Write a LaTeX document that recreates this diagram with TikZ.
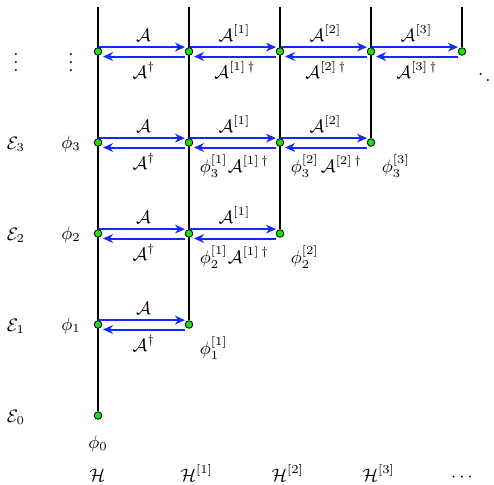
\documentclass[tikz,border=0pt]{standalone}
\usetikzlibrary{arrows.meta,backgrounds}
\definecolor{dotgreen}{RGB}{30,220,30}
\definecolor{arrblue}{RGB}{20,40,255}
\newcommand\linkpair[6]{%
  \draw[fwd] ([yshift=2.2pt]#1.center) -- ([yshift=2.2pt,xshift=-2pt]#2.center)
     node[midway,lbl,yshift=2.8pt,xshift=1pt] {$#3$};
  \draw[fwd] ([yshift=-2.5pt,xshift=-2pt]#2.center) -- ([yshift=-2.5pt,xshift=2.5pt]#1.center)
     node[midway,lbl,yshift=#6,xshift=#5] {$#4$};}
\begin{document}
\begin{tikzpicture}[x=0.5pt,y=-0.5pt,font=\fontsize{9.2}{11}\selectfont,
  dotnode/.style={circle,draw=black,line width=0.4pt,fill=dotgreen,inner sep=0pt,minimum size=3.8pt},
  axisline/.style={line width=1.3pt,black},
  fwd/.style={draw=arrblue,line width=1pt,-{Stealth[length=5pt,width=4.4pt,inset=1.6pt]}},
  lbl/.style={anchor=base,inner sep=0pt},
  philbl/.style={anchor=base west,inner sep=0pt}]
\useasboundingbox (0,0) rectangle (494,484);
% dots
\foreach \c in {0,...,4}{
  \foreach \r in {\c,...,4}{
    \node[dotnode] (d-\c-\r) at ({98+91*\c},{415.5-91*\r}) {};
  }
  \coordinate (t-\c) at ({98+91*\c},7);
}
\begin{pgfonlayer}{background}
\draw[axisline] (t-0) -- (d-0-0);
\draw[axisline] (t-1) -- (d-1-1);
\draw[axisline] (t-2) -- (d-2-2);
\draw[axisline] (t-3) -- (d-3-3);
\draw[axisline] (t-4) -- (d-4-4);
% row 1
\linkpair{d-0-1}{d-1-1}{\mathcal{A}}{\mathcal{A}^\dagger}{0pt}{-11pt}
% row 2
\linkpair{d-0-2}{d-1-2}{\mathcal{A}}{\mathcal{A}^\dagger}{0pt}{-11pt}
\linkpair{d-1-2}{d-2-2}{\mathcal{A}^{[1]}}{\mathcal{A}^{[1]\,\dagger}}{6.75pt}{-12.5pt}
% row 3
\linkpair{d-0-3}{d-1-3}{\mathcal{A}}{\mathcal{A}^\dagger}{0pt}{-11pt}
\linkpair{d-1-3}{d-2-3}{\mathcal{A}^{[1]}}{\mathcal{A}^{[1]\,\dagger}}{6.75pt}{-12.5pt}
\linkpair{d-2-3}{d-3-3}{\mathcal{A}^{[2]}}{\mathcal{A}^{[2]\,\dagger}}{7.75pt}{-12.5pt}
% row 4
\linkpair{d-0-4}{d-1-4}{\mathcal{A}}{\mathcal{A}^\dagger}{0pt}{-11pt}
\linkpair{d-1-4}{d-2-4}{\mathcal{A}^{[1]}}{\mathcal{A}^{[1]\,\dagger}}{0pt}{-11pt}
\linkpair{d-2-4}{d-3-4}{\mathcal{A}^{[2]}}{\mathcal{A}^{[2]\,\dagger}}{0pt}{-11pt}
\linkpair{d-3-4}{d-4-4}{\mathcal{A}^{[3]}}{\mathcal{A}^{[3]\,\dagger}}{0pt}{-11pt}
\end{pgfonlayer}
% phi labels at dots
\node[philbl] (p11) at ([xshift=5.25pt,yshift=-15pt]d-1-1.center) {$\phi_1^{[1]}$};
\node[philbl] (p12) at ([xshift=5.25pt,yshift=-15pt]d-1-2.center) {$\phi_2^{[1]}$};
\node[philbl] (p22) at ([xshift=5.25pt,yshift=-15pt]d-2-2.center) {$\phi_2^{[2]}$};
\node[philbl] (p13) at ([xshift=5.25pt,yshift=-15pt]d-1-3.center) {$\phi_3^{[1]}$};
\node[philbl] (p23) at ([xshift=5.25pt,yshift=-15pt]d-2-3.center) {$\phi_3^{[2]}$};
\node[philbl] (p33) at ([xshift=5.25pt,yshift=-15pt]d-3-3.center) {$\phi_3^{[3]}$};
\node[lbl] (p00) at ([yshift=-16.5pt]d-0-0.center) {$\phi_0$};
% left columns
\foreach \r in {0,...,3}{
  \node[lbl] (e-\r) at (16,{415.5-91*\r+7}) {$\mathcal{E}_\r$};
}
\foreach \r in {1,...,3}{
  \node[lbl] (f-\r) at (71,{415.5-91*\r+5.5}) {$\phi_\r$};
}
\node[anchor=center,inner sep=0pt] (e-dots) at (16,56.5) {$\vdots$};
\node[anchor=center,inner sep=0pt] (f-dots) at (71,56.5) {$\vdots$};
\node[anchor=center,inner sep=0pt] (diag) at (488,74) {$\ddots$};
% spaces
\node[anchor=base west,inner sep=0pt] (h0) at (89,481) {$\mathcal{H}$};
\node[anchor=base west,inner sep=0pt] (h1) at (180,481) {$\mathcal{H}^{[1]}$};
\node[anchor=base west,inner sep=0pt] (h2) at (271,481) {$\mathcal{H}^{[2]}$};
\node[anchor=base west,inner sep=0pt] (h3) at (362,481) {$\mathcal{H}^{[3]}$};
\node[lbl] (hdots) at (462,481) {$\cdots$};
\end{tikzpicture}
\end{document}
